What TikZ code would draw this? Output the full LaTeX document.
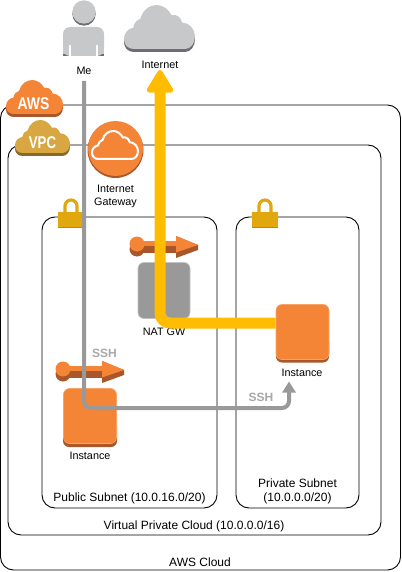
\documentclass[tikz,border=0pt]{standalone}
\usepackage{xcolor}
\usepackage{fontspec}
\setmainfont{Liberation Sans}
\usetikzlibrary{arrows.meta}

\definecolor{awsorange}{HTML}{F58536}
\definecolor{awsbrown}{HTML}{A9562B}
\definecolor{vpcgold}{HTML}{D9A741}
\definecolor{vpcbrown}{HTML}{876929}
\definecolor{lockgold}{HTML}{E0A70F}
\definecolor{lockbrown}{HTML}{B8891A}
\definecolor{cloudgrey}{HTML}{C7C8CA}
\definecolor{clouddark}{HTML}{6D6E71}
\definecolor{natgrey}{HTML}{999999}
\definecolor{routeyellow}{HTML}{FFBC00}

\tikzset{
    groupbox/.style={draw=black, line width=0.9pt, rounded corners=13pt, inner sep=0pt},
    caption/.style={font=\fontsize{10.8}{13}\selectfont, align=center, inner sep=0pt, text=black},
    groupcaption/.style={font=\fontsize{12}{13.5}\selectfont, align=center, inner sep=0pt, text=black},
    sshlabel/.style={font=\fontsize{12}{14}\selectfont\bfseries, inner sep=0pt, text=natgrey!85!white},
    tag/.style={font=\fontsize{17}{20}\selectfont\bfseries, inner sep=0pt, text=white},
    instancebox/.style={fill=awsorange, draw=awsorange!75!white, line width=0.6pt, rounded corners=6pt, minimum width=53pt, minimum height=55pt, inner sep=0pt},
    sshroute/.style={draw=natgrey, line width=4pt, rounded corners=7pt, -{Triangle[length=11pt,width=13pt]}},
    inetroute/.style={draw=routeyellow, line width=11pt, rounded corners=10pt, -{Triangle[round,line width=5pt,length=25pt,width=29pt]}}
}

% cloud outline, 100 wide and 60 high
\newcommand{\cloudoutline}{
    (14,60) .. controls (5,60) and (0,54) .. (0,46)
    .. controls (0,38) and (6,32) .. (13,31)
    .. controls (14,25) and (18,20) .. (23,19)
    .. controls (26,7) and (36,0) .. (46,0)
    .. controls (55,0) and (63,6) .. (67,14)
    .. controls (73,12) and (80,16) .. (82,24)
    .. controls (92,24) and (100,33) .. (100,43)
    .. controls (100,52) and (94,60) .. (86,60) -- cycle
}
% x, y, width, height, face, shadow
\newcommand{\cloudicon}[6]{
    \begin{scope}[shift={(#1,#2+3)}, xscale=#3/100, yscale=#4/60]
        \fill[#6] \cloudoutline;
    \end{scope}
    \begin{scope}[shift={(#1,#2)}, xscale=#3/100, yscale=#4/60]
        \fill[#5] \cloudoutline;
    \end{scope}
}
% x, y of the upper left-hand corner of the body
\newcommand{\lockicon}[2]{
    \begin{scope}[shift={(#1,#2)}]
        \draw[lockgold, line width=3.2pt] (7,2) -- (7,-6) arc[start angle=180, end angle=360, radius=6] -- (19,2);
        \fill[lockgold] (0,0) rectangle (26,15);
        \fill[lockbrown] (0,15) rectangle (26,16.2);
    \end{scope}
}
% x, y of the middle of the round end
\newcommand{\routeicon}[2]{
    \begin{scope}[shift={(#1,#2)}]
        \fill[awsbrown] (0,5) circle (7.5);
        \fill[awsbrown] (0,2) rectangle (39,9);
        \fill[awsbrown] (39,-8) -- (61,1) -- (61,6) -- (39,14) -- cycle;
        \fill[awsorange] (0,0) circle (7.5);
        \fill[awsorange] (0,-3) rectangle (40,2);
        \fill[awsorange] (39,-8) -- (61,1) -- (39,8.5) -- cycle;
    \end{scope}
}

\begin{document}
\begin{tikzpicture}[x=1pt, y=-1pt]
    \useasboundingbox (0,0) rectangle (401,572);

    % groups
    \node (awscloud) [groupbox, minimum width=400pt, minimum height=465pt] at (200.5,337.5) {};
    \node (vpc) [groupbox, minimum width=373pt, minimum height=390pt] at (194.5,340) {};
    \node (publicsubnet) [groupbox, minimum width=175pt, minimum height=291pt] at (129.5,362.5) {};
    \node (privatesubnet) [groupbox, minimum width=123pt, minimum height=291pt] at (297.5,362.5) {};

    \node (awscaption) [groupcaption] at (200,562) {AWS Cloud};
    \node (vpccaption) [groupcaption] at (194,526) {Virtual Private Cloud (10.0.0.0/16)};
    \node (publiccaption) [groupcaption] at (129.5,498.5) {Public Subnet (10.0.16.0/20)};
    \node (privatecaption) [groupcaption] at (297.5,491.5) {Private Subnet\\(10.0.0.0/20)};

    % tags
    \cloudicon{6}{80}{57}{34}{awsorange}{awsbrown}
    \cloudicon{15}{120}{55}{33}{vpcgold}{vpcbrown}
    \node (awstag) [tag, xscale=0.82] at (33.5,104) {AWS};
    \node (vpctag) [tag, xscale=0.78] at (42.5,143) {VPC};
    \lockicon{58}{212}
    \lockicon{252}{212}

    % me
    \fill[clouddark] (84,14) circle (11.7);
    \fill[cloudgrey] (84,12) circle (11.7);
    \fill[clouddark] (63,36) rectangle (104,56);
    \fill[cloudgrey, rounded corners=7pt] (63,56) -- (63,27) -- (104,27) -- (104,56) -- cycle;
    \fill[cloudgrey] (63,45) rectangle (104,54);
    \fill[white] (69,45) rectangle (70.5,56);
    \fill[white] (96,45) rectangle (97.5,56);
    \node (me) [caption] at (84,70.5) {Me};

    % internet
    \cloudicon{124}{5}{71}{44}{cloudgrey}{clouddark}
    \node (internet) [caption] at (160,65) {Internet};

    % gateway
    \fill[awsbrown] (115.5,150) circle (28);
    \fill[awsorange] (115.5,148.5) circle (27.5);
    \begin{scope}[shift={(92,131)}, xscale=46/100, yscale=28/60]
        \draw[white, line width=2pt] \cloudoutline;
    \end{scope}
    \node (gateway) [caption] at (115.5,196.5) {Internet\\Gateway};

    % nat
    \node (natbox) [fill=natgrey, draw=natgrey!60!white, line width=0.6pt, rounded corners=6pt, minimum width=52pt, minimum height=56pt, inner sep=0pt] at (164,290.5) {};
    \node (natcaption) [caption] at (164,332) {NAT GW};
    \routeicon{137}{244}

    % instances
    \routeicon{63}{369}
    \fill[awsbrown, rounded corners=6pt] (63,420) rectangle (117,447);
    \node (publicinstance) [instancebox] at (90,416) {};
    \node (publiclabel) [caption] at (90,456) {Instance};
    \fill[awsbrown, rounded corners=6pt] (276,336) rectangle (329,362.5);
    \node (privateinstance) [instancebox] at (302.5,332) {};
    \node (privatelabel) [caption] at (302,373) {Instance};

    % routes
    \coordinate (sshstart) at (84,81);
    \coordinate (sshend) at (289,381.5);
    \coordinate (inettip) at (160,70);
    \draw[inetroute] ([yshift=9pt]privateinstance.west) -| (inettip);
    \draw[sshroute] (sshstart) |- (200,408) -| (sshend);
    \node (sshpublic) [sshlabel] at (104.5,353.5) {SSH};
    \node (sshprivate) [sshlabel] at (261,397) {SSH};
\end{tikzpicture}
\end{document}
